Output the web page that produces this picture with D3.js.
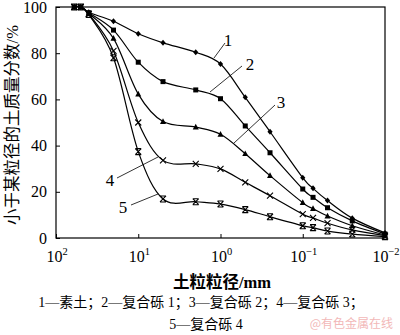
<!DOCTYPE html>
<html>
<head>
<meta charset="utf-8">
<script src="https://cdn.jsdelivr.net/npm/d3@7/dist/d3.min.js"></script>
<style>
  html, body { margin: 0; padding: 0; background: #fff; }
  svg { display: block; }
</style>
</head>
<body>
<svg id="chart" width="400" height="335"></svg>
<script>
// Particle size (mm) of each sieve point
const sizes = [60, 50, 40, 20, 10, 5, 2, 1, 0.5, 0.25, 0.1, 0.075, 0.05, 0.025, 0.01];

// Percent passing (%) for each sample
const soil  = [100, 100, 97.7, 93.8, 88.4, 84.5, 80.4, 75.3, 60.9, 46.0, 26.1, 21.5, 16.2, 8.6, 2.2];
const mix1  = [100, 100, 97.5, 90.0, 76.1, 67.7, 64.1, 60.3, 48.5, 36.9, 21.2, 17.6, 13.1, 7.4, 1.7];
const mix2  = [100, 100, 97.3, 86.4, 62.3, 50.4, 48.0, 44.9, 36.5, 27.0, 15.3, 12.7, 9.5, 5.3, 1.3];
const mix3  = [100, 100, 97.0, 81.0, 50.0, 33.6, 32.1, 29.9, 24.1, 18.3, 10.3, 8.7, 6.4, 3.5, 1.0];
const mix4  = [100, 100, 96.8, 78.0, 37.4, 16.9, 15.7, 14.7, 12.3, 9.2, 5.3, 4.5, 3.0, 1.7, 0.6];

const seriesNames = ["1", "2", "3", "4", "5"];
const seriesValues = [soil, mix1, mix2, mix3, mix4];
const markerKinds = ["diamond", "square", "triangle", "cross", "star"];

const xTickValues = [100, 10, 1, 0.1, 0.01];
const xTickExps = ["2", "1", "0", "\u22121", "\u22122"];
const yTickValues = [0, 20, 40, 60, 80, 100];

const yTitle = "小于某粒径的土质量分数/%";
const xTitle = "土粒粒径/mm";
const caption1 = "1—素土；2—复合砾 1；3—复合砾 2；4—复合砾 3；";
const caption2 = "5—复合砾 4";
const mark = "@有色金属在线";

const serif = "'Liberation Serif', 'Times New Roman', serif";
const cjk = "'Liberation Serif', 'Noto Sans CJK SC', serif";

const svg = d3.select("#chart");
const plot = { left: 56, right: 385, top: 7, bottom: 238 };

const x = d3.scaleLog().domain([100, 0.01]).range([plot.left, plot.right]);
const y = d3.scaleLinear().domain([0, 100]).range([plot.bottom, plot.top]);

// Frame
svg.append("rect")
  .attr("x", plot.left).attr("y", plot.top)
  .attr("width", plot.right - plot.left).attr("height", plot.bottom - plot.top)
  .attr("fill", "none").attr("stroke", "#000").attr("stroke-width", 1.2);

// Y axis with inward ticks
const yAxis = svg.append("g")
  .attr("transform", `translate(${plot.left},0)`)
  .call(d3.axisLeft(y).tickValues(yTickValues).tickSizeInner(-4).tickSizeOuter(0).tickPadding(9));
yAxis.select(".domain").remove();
yAxis.selectAll("line").attr("stroke", "#000").attr("stroke-width", 1);
yAxis.selectAll("text")
  .attr("font-family", serif).attr("font-size", 16).attr("fill", "#000");

// X axis with inward ticks and power-of-ten labels
const xAxis = svg.append("g")
  .attr("transform", `translate(0,${plot.bottom})`)
  .call(d3.axisBottom(x).tickValues(xTickValues).tickSizeInner(-4).tickSizeOuter(0).tickFormat(""));
xAxis.select(".domain").remove();
xAxis.selectAll("line").attr("stroke", "#000").attr("stroke-width", 1);

const xLab = svg.append("g");
xTickValues.forEach((v, i) => {
  const t = xLab.append("text")
    .attr("x", x(v) + 1).attr("y", plot.bottom + 24)
    .attr("text-anchor", "middle")
    .attr("font-family", serif).attr("font-size", 16).attr("fill", "#000");
  t.append("tspan").text("10");
  t.append("tspan").attr("dy", -7).attr("font-size", 10.5).text(xTickExps[i]);
});

// Curves
const line = d3.line()
  .x(d => x(d[0]))
  .y(d => y(d[1]))
  .curve(d3.curveCardinal);

seriesValues.forEach((vals) => {
  const pts = sizes.map((s, i) => [s, vals[i]]);
  svg.append("path")
    .datum(pts)
    .attr("d", line)
    .attr("fill", "none")
    .attr("stroke", "#000")
    .attr("stroke-width", 1.2);
});

// Markers
function drawMarker(g, kind, cx, cy) {
  if (kind === "diamond") {
    g.append("path").attr("d", `M${cx},${cy-3}L${cx+2.6},${cy}L${cx},${cy+3}L${cx-2.6},${cy}Z`).attr("fill", "#000");
  } else if (kind === "square") {
    g.append("rect").attr("x", cx - 2.5).attr("y", cy - 2.5).attr("width", 5).attr("height", 5).attr("fill", "#000");
  } else if (kind === "triangle") {
    g.append("path").attr("d", `M${cx},${cy-3.3}L${cx+3},${cy+2.4}L${cx-3},${cy+2.4}Z`).attr("fill", "#000");
  } else if (kind === "cross") {
    g.append("path").attr("d", `M${cx-3},${cy-3}L${cx+3},${cy+3}M${cx+3},${cy-3}L${cx-3},${cy+3}`)
      .attr("stroke", "#000").attr("stroke-width", 1.1);
  } else {
    g.append("path").attr("d", `M${cx-3},${cy-3}L${cx+3},${cy+3}M${cx+3},${cy-3}L${cx-3},${cy+3}M${cx-3},${cy-3}L${cx+3},${cy-3}M${cx-3},${cy+3}L${cx+3},${cy+3}`)
      .attr("stroke", "#000").attr("stroke-width", 1.1);
  }
}
seriesValues.forEach((vals, k) => {
  const g = svg.append("g");
  sizes.forEach((s, i) => drawMarker(g, markerKinds[k], x(s), y(vals[i])));
});

// Curve labels with leader lines
const labels = [
  { t: seriesNames[0], x1: 214, y1: 58, x2: 225, y2: 43, tx: 228, ty: 46 },
  { t: seriesNames[1], x1: 210, y1: 92, x2: 242, y2: 66, tx: 250, ty: 70 },
  { t: seriesNames[2], x1: 234, y1: 143, x2: 275, y2: 105, tx: 281, ty: 108 },
  { t: seriesNames[3], x1: 117, y1: 178, x2: 158, y2: 157, tx: 110, ty: 186 },
  { t: seriesNames[4], x1: 131, y1: 205, x2: 158, y2: 194, tx: 123, ty: 213 }
];
labels.forEach(l => {
  svg.append("line").attr("x1", l.x1).attr("y1", l.y1).attr("x2", l.x2).attr("y2", l.y2)
    .attr("stroke", "#000").attr("stroke-width", 0.8);
  svg.append("text").attr("x", l.tx).attr("y", l.ty).attr("text-anchor", "middle")
    .attr("font-family", serif).attr("font-size", 17).attr("fill", "#000").text(l.t);
});

// Axis titles
svg.append("text")
  .attr("transform", "translate(18,125) rotate(-90)")
  .attr("text-anchor", "middle")
  .attr("font-family", cjk).attr("font-size", 16.5).attr("fill", "#000")
  .text(yTitle);

svg.append("text")
  .attr("x", 222).attr("y", 288)
  .attr("text-anchor", "middle")
  .attr("font-family", cjk).attr("font-size", 16.5).attr("font-weight", "bold").attr("fill", "#000")
  .text(xTitle);

// Legend caption
svg.append("text")
  .attr("x", 201).attr("y", 307)
  .attr("text-anchor", "middle")
  .attr("font-family", cjk).attr("font-size", 14).attr("fill", "#000")
  .text(caption1);
svg.append("text")
  .attr("x", 206).attr("y", 329)
  .attr("text-anchor", "middle")
  .attr("font-family", cjk).attr("font-size", 14).attr("fill", "#000")
  .text(caption2);

svg.append("text")
  .attr("x", 393).attr("y", 328)
  .attr("text-anchor", "end")
  .attr("font-family", "'Noto Sans CJK SC', sans-serif").attr("font-size", 12).attr("fill", "#f2b8b8")
  .text(mark);
</script>
</body>
</html>
